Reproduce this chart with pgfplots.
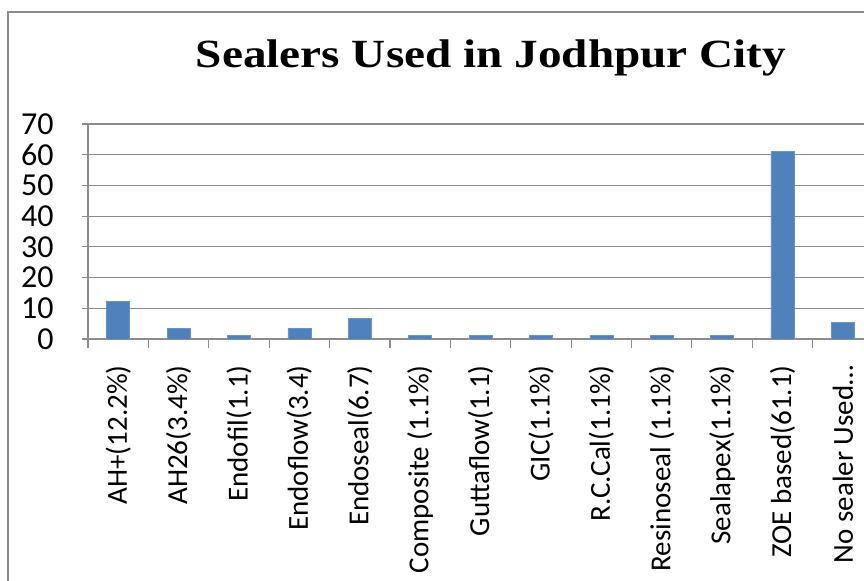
\documentclass[border=0pt]{standalone}
\usepackage{fontspec}
\setmainfont{Carlito}
\newfontfamily\titlefont{Liberation Serif}
\usepackage{pgfplots}
\pgfplotsset{compat=1.18}
\definecolor{barblue}{HTML}{4F81BD}
\definecolor{gridgray}{HTML}{8C8C8C}

\begin{document}
\begin{tikzpicture}[x=0.5pt,y=0.5pt]
% page = 864 x 581 px, 1 px = 0.5pt
\path[use as bounding box] (0,0) rectangle (864,581);
\draw[gridgray, line width=0.8pt] (8,-5) -- (8,569) -- (870,569);
\node[anchor=base, font=\titlefont\bfseries\fontsize{20pt}{24pt}\selectfont, xscale=1.18]
  at (491,513) {Sealers Used in Jodhpur City};
\begin{axis}[
  at={(44pt,121pt)}, anchor=south west,
  scale only axis, width=388pt, height=107.5pt,
  xmin=-0.5, xmax=12.35, ymin=0, ymax=70,
  ytick={0,10,...,70},
  xtick={0,...,12},
  xticklabels={{AH+(12.2\%)},{AH26(3.4\%)},{Endofil(1.1)},{Endoflow(3.4)},
    {Endoseal(6.7)},{Composite (1.1\%)},{Guttaflow(1.1)},{GIC(1.1\%)},
    {R.C.Cal(1.1\%)},{Resinoseal (1.1\%)},{Sealapex(1.1\%)},{ZOE based(61.1)},
    {No sealer Used…}},
  minor xtick={-0.5,0.5,...,12.5},
  xtick style={draw=none},
  minor x tick style={draw=gridgray, line width=0.6pt},
  y tick style={draw=gridgray, line width=0.6pt},
  minor tick length=4.5pt, major tick length=6pt,
  tick align=outside,
  axis lines=left, axis line style={draw=gridgray, line width=0.6pt, -},
  ymajorgrids, grid style={draw=gridgray, line width=0.6pt},
  yticklabel style={font=\fontsize{16pt}{18pt}\selectfont, anchor=east, inner sep=0pt},
  yticklabel shift=14pt,
  xticklabel style={font=\fontsize{14.5pt}{16pt}\selectfont, rotate=90, anchor=east, inner sep=0pt},
  xticklabel shift=7pt,
  /pgf/number format/assume math mode=true,
  ybar, bar width=11.5pt,
]
\addplot[fill=barblue, draw=barblue!85!white, line width=0.3pt]
coordinates {(0,12.2) (1,3.4) (2,1.1) (3,3.4) (4,6.7) (5,1.1) (6,1.1)
 (7,1.1) (8,1.1) (9,1.1) (10,1.1) (11,61.1) (12,5.5)};
\end{axis}
\end{tikzpicture}
\end{document}
